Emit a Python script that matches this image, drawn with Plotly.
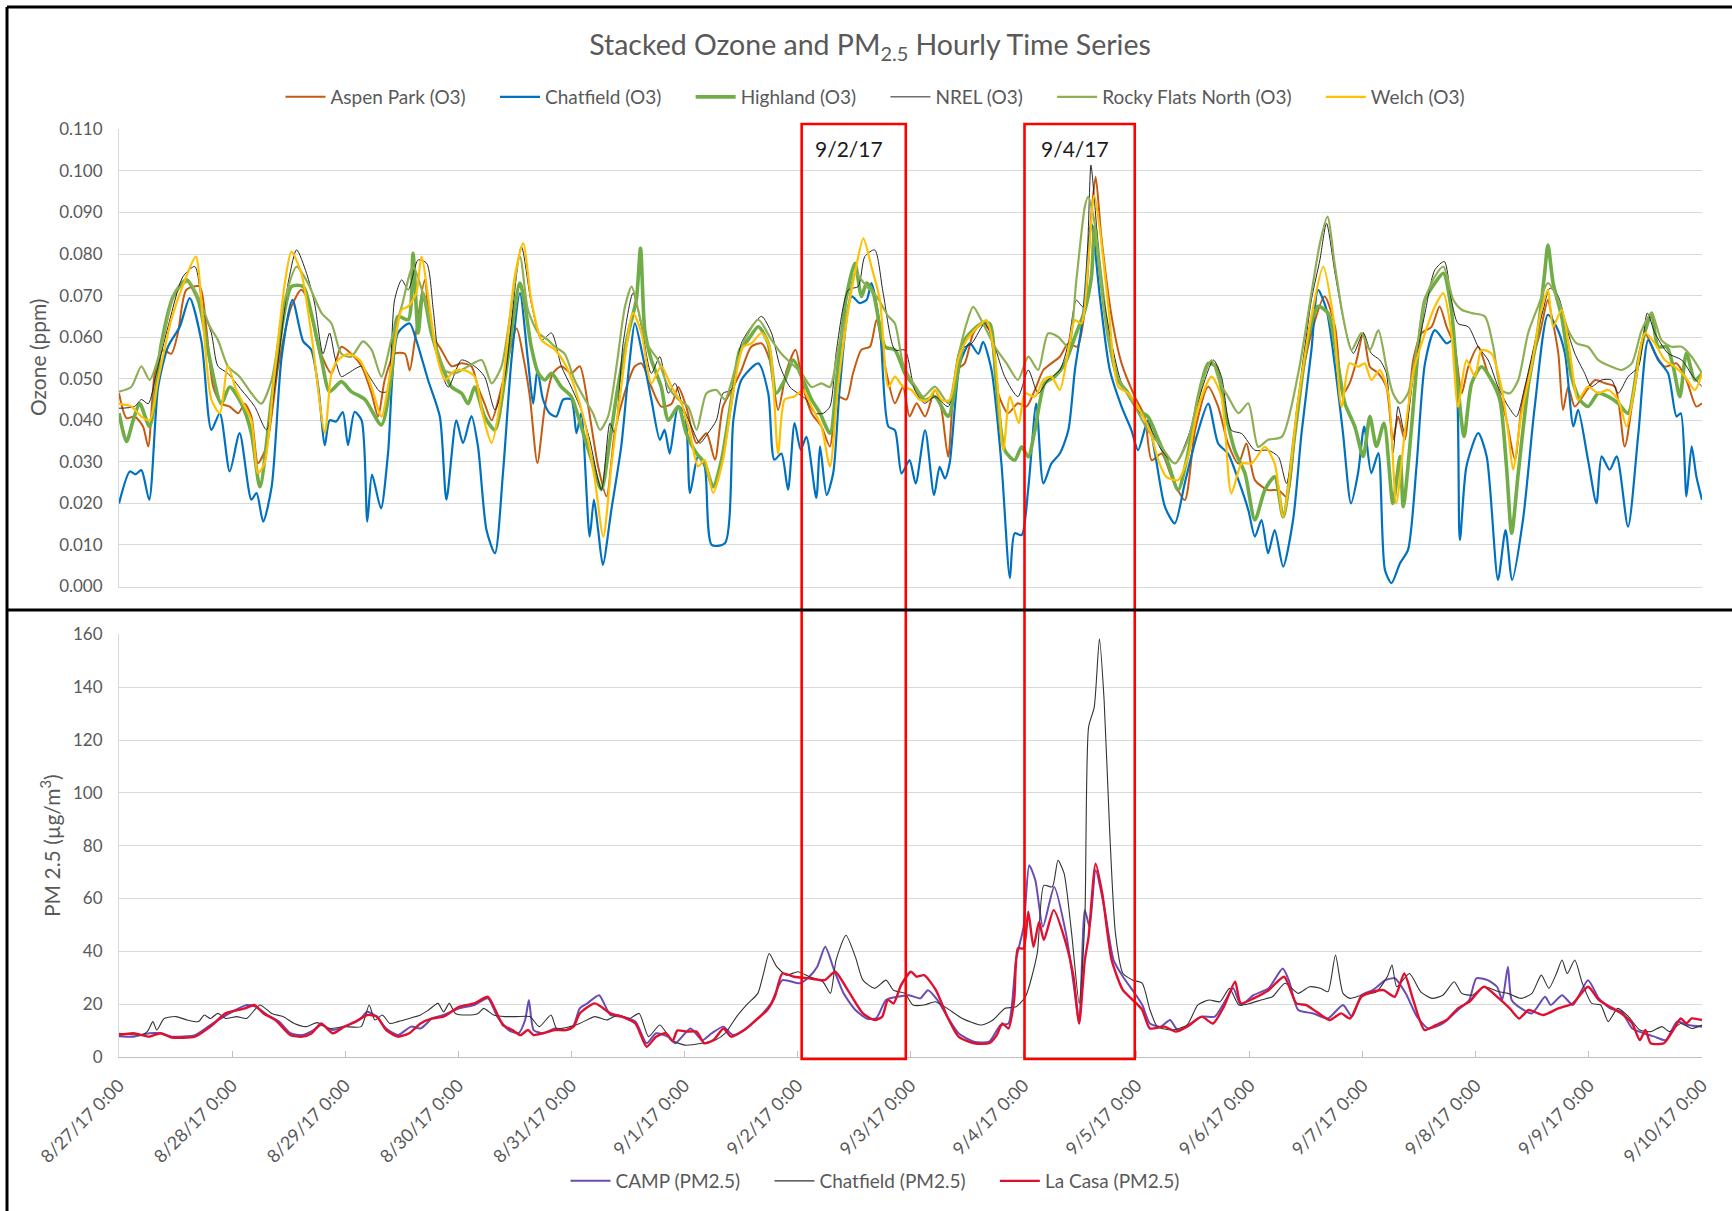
import pandas as pd
import plotly.graph_objects as go

START = pd.Timestamp("2017-08-27 00:00")

DAY_LABELS = ["8/27/17 0:00", "8/28/17 0:00", "8/29/17 0:00", "8/30/17 0:00", "8/31/17 0:00",
              "9/1/17 0:00", "9/2/17 0:00", "9/3/17 0:00", "9/4/17 0:00", "9/5/17 0:00",
              "9/6/17 0:00", "9/7/17 0:00", "9/8/17 0:00", "9/9/17 0:00", "9/10/17 0:00"]

# ---------------- Ozone (ppm); x = hours after 8/27/17 0:00 ----------------
ASPEN_H = [0,1.6,3.3,5.1,6.2,7.6,9.3,11.1,12.5,14.3,17.1,18.5,20,21.7,23.5,25.3,26.7,28.1,29.5,31.3,33.8,36.6,38.7,40.1,42.3,45.1,47.2,49.3,51.5,53.6,55,56.4,58.5,60.7,61.7,62.8,64.9,66.3,68.4,70.6,72.7,74.8,76.2,77.6,79.1,81.2,
           84.4,85.8,87.2,88.8,90.4,92.1,93.9,96,97.8,99.6,101.7,103.5,105.2,107.3,109.5,110.9,113,115.1,117.3,118.7,120.4,122.6,124.7,126.5,128.2,130.4,132.1,134.2,136.4,138.1,139.9,141.7,143.6,145.2,147,149.1,150.9,152.6,154.4,155.8,157.6,159.4,160.8,162.6,
           164.7,166.4,167.8,169.3,171.1,173.2,174.6,176,177.8,179.5,181.3,183.1,184.8,186.6,188.7,190.8,192.6,194.4,196.2,197.9,199.7,201.5,203.4,205,206.4,207.3,208.5,210.7,212.8,215.6,217.7,219.2,221.3,223.4,226.2,228.4,231.2,233.3,235.4,237.6,239.3,241.1,243.9,246.1,247.8,
           250.3,253.1,255.9,258.1,259.8,261.2,262.7,264.1,265.5,267.3,269,270.4,271.5,272.9,274.7,276.5,278.6,280.3,281.8,283.5,285,286.4,288.5,290.6,292.7,294.5,296.3,297.7,299.8,301.6,303.3,304.1,305.5,306.5,307.6,309,311.1,313.3,315.4,317.5,319.6,321.7,323.9,326,328.1,330.6,332.7,334.8,336]
ASPEN_V = [0.0465,0.0405,0.0409,0.0385,0.0337,0.0513,0.0569,0.056,0.061,0.0714,0.0722,0.0625,0.048,0.044,0.0433,0.0417,0.044,0.0409,0.0297,0.0337,0.053,0.0674,0.0714,0.069,0.0577,0.0513,0.0577,0.056,0.053,0.0465,0.0409,0.0497,0.056,0.056,0.052,0.0593,0.0738,0.061,0.057,0.053,0.0537,0.053,0.048,0.044,0.040,0.048,
           0.0621,0.0553,0.0457,0.0297,0.0433,0.0513,0.053,0.0513,0.053,0.0433,0.0289,0.0217,0.0369,0.0465,0.053,0.0537,0.048,0.0433,0.044,0.048,0.0433,0.0345,0.0369,0.0305,0.0433,0.048,0.052,0.0577,0.0585,0.0545,0.0425,0.052,0.057,0.048,0.0417,0.0385,0.0337,0.0457,0.045,0.0513,0.057,0.0577,0.0642,0.053,
           0.0441,0.0481,0.0409,0.0441,0.0409,0.0473,0.0425,0.0312,0.0521,0.0537,0.0609,0.0633,0.0617,0.0465,0.0417,0.0441,0.0433,0.0473,0.0521,0.0537,0.0553,0.0585,0.0577,0.0665,0.0898,0.0986,0.0842,0.0649,0.0537,0.0457,0.0409,0.0304,0.032,0.0264,0.0208,0.0376,0.0481,0.0433,0.0344,0.0296,0.0344,0.0256,0.0232,0.0232,0.0216,
           0.0449,0.061,0.0698,0.0625,0.0465,0.0489,0.0545,0.061,0.0529,0.0513,0.0481,0.0353,0.0409,0.0353,0.0545,0.061,0.0625,0.0674,0.0625,0.0577,0.0465,0.0529,0.0577,0.0513,0.0473,0.0401,0.0305,0.0433,0.0537,0.061,0.069,0.065,0.0561,0.0425,0.0481,0.0433,0.0465,0.0497,0.0489,0.0481,0.0337,0.0481,0.061,0.0561,0.0529,0.0537,0.0497,0.0433,0.0441]

CHATFIELD_O3_H = [0,2.3,3.5,4.75,6.4,8.3,10.4,12.9,15,17.5,19.6,21.4,23.5,25.6,28.1,29.2,30.6,32.4,34.5,36.8,39.1,40.8,42.3,43.7,44.7,46.1,47.5,48.6,50,51.5,52.7,53.7,55.6,57.1,59.2,61.7,63.1,65.6,68.1,69.5,71.6,73,74.8,76.2,78,79.8,81.5,
                  83.3,85.1,86.8,87.9,88.8,90,91.4,92.8,94.3,96,97.1,98.1,99.9,100.8,101.7,102.7,104.5,106.6,108.4,109.5,111.2,113,114.8,115.8,116.9,118.7,120.1,121.2,122.9,124.3,125.8,128.6,130.4,132.1,135.7,137.8,139.1,140.6,142,143.4,144.7,145.9,148,148.8,150.2,151.6,153,155.5,157.2,158.7,159.7,161.5,163.3,
                  164.7,166.1,167.8,169.1,171.1,173,174.2,175.3,176.3,178.5,180.6,182.4,183.4,185.2,187.3,189.1,190.1,191.6,193,194.7,196.2,197.9,199.7,201.5,202.9,204.6,206.4,208.2,210.3,212.8,214.9,216.3,218.4,219.9,222,224.1,226.2,228.7,231.2,233.3,235.4,237.6,239.7,241.1,242.5,243.9,245.3,247.1,
                  249.2,251,253.1,254.5,256.3,258.1,259.8,261.5,263,264.3,265.8,267.3,268.7,270.1,271.9,273.6,275.4,277.2,279.3,281.8,283.2,284.6,286,288.5,290.3,292.7,294.3,295.7,298,300.5,303.3,305.1,306.9,308.7,309.7,311.8,313.6,314.7,316.4,317.9,320.3,322.5,324.6,326.7,328.8,330.6,331.5,332.7,333.8,334.8,336]
CHATFIELD_O3_V = [0.020,0.0277,0.027,0.028,0.0209,0.048,0.0577,0.0625,0.0694,0.059,0.0377,0.0417,0.0277,0.0369,0.0209,0.0225,0.0156,0.024,0.055,0.069,0.059,0.057,0.048,0.034,0.040,0.0397,0.042,0.034,0.042,0.040,0.0156,0.0269,0.0188,0.032,0.061,0.0633,0.0593,0.0497,0.0409,0.0209,0.040,0.0345,0.041,0.0337,0.0136,0.008,0.0273,
                  0.0545,0.0706,0.0545,0.044,0.052,0.045,0.0417,0.0409,0.045,0.045,0.0369,0.0417,0.012,0.0209,0.0136,0.0052,0.0184,0.0337,0.0545,0.0634,0.0553,0.045,0.0353,0.0377,0.032,0.0433,0.0417,0.0225,0.0313,0.0289,0.010,0.0104,0.040,0.0497,0.0537,0.0465,0.0305,0.032,0.0233,0.0393,0.0329,0.036,0.0213,0.0337,0.022,0.0273,0.048,0.0698,0.0682,0.069,0.073,0.0625,0.0385,
                  0.0376,0.0272,0.0304,0.0248,0.0376,0.022,0.0288,0.026,0.0296,0.0537,0.0585,0.056,0.0589,0.0521,0.0296,0.002,0.0128,0.0124,0.0236,0.044,0.0248,0.0296,0.032,0.0376,0.0521,0.0649,0.0874,0.0697,0.0521,0.0433,0.0376,0.0328,0.040,0.032,0.0192,0.0152,0.0248,0.036,0.044,0.0344,0.032,0.0256,0.0184,0.012,0.016,0.008,0.0136,0.0048,
                  0.016,0.0369,0.0569,0.0714,0.0666,0.0529,0.0369,0.020,0.0273,0.0385,0.0273,0.0321,0.004,0.0008,0.0056,0.0088,0.0289,0.0537,0.0617,0.0585,0.0593,0.0112,0.0289,0.0369,0.0313,0.0016,0.0136,0.0016,0.016,0.0433,0.0654,0.0625,0.0561,0.0385,0.0425,0.0305,0.020,0.0313,0.0281,0.0313,0.0144,0.0369,0.0593,0.0545,0.0513,0.0409,0.0417,0.0217,0.0337,0.0265,0.0209]

HIGHLAND_H = [0,1.6,3,4.4,6.5,9,11.5,14.3,16.8,19.3,21.7,23.5,26,28.1,29.9,32.4,35.2,36.6,39.1,40.8,43,44.7,47.2,49.3,52.2,55.7,57.8,59.2,61.4,62.4,63.5,64.5,66.3,68.1,70.6,72.7,74.1,75.5,77.6,79.8,81.9,
              85.1,86.1,87.5,89,90.4,91.8,93.9,96,98.1,100.3,102.4,104.2,105.9,108.1,109.8,110.7,111.6,113,115.1,116.6,118.7,120.4,122.6,124.3,126.1,127.9,130,131.8,133.5,135.7,137.8,139.5,141.3,143.1,144.9,147,148.8,150.9,152.6,154.4,156.2,157.6,158.7,160.1,162.6,
              164.7,166.8,168.9,171,173.2,176,178.1,179.5,181.3,183.1,184.8,186.2,188,190.1,191.6,193,194.4,196.5,198.6,200.8,202.9,205,206.4,207.1,208.2,210,212.1,214.2,216.3,218.4,220.6,222.7,224.8,226.9,229.1,231.2,232.9,234.7,236.8,239,241.1,243.2,245.3,247.1,
              249.6,252.4,254.5,256.6,258.8,260.2,262.3,264.1,265.5,266.9,268.5,270.4,271.9,272.6,274.3,275.7,277.2,279.3,281.1,282.8,284.2,285.5,287.1,289.2,291.3,293.1,294.5,295.6,297,299.1,301.2,302.6,303.3,304.4,306.2,308.3,310.1,311.8,314,316.1,318.2,320.3,322.5,324.2,325.3,326.7,328.5,329.9,331.3,332.7,334.5,336]
HIGHLAND_V = [0.0417,0.0349,0.040,0.044,0.0385,0.0585,0.0698,0.0738,0.069,0.0545,0.044,0.048,0.044,0.0369,0.024,0.045,0.0666,0.0722,0.0722,0.0658,0.0545,0.0469,0.0493,0.0469,0.045,0.0389,0.0505,0.065,0.0642,0.0802,0.061,0.0706,0.061,0.0545,0.048,0.0465,0.044,0.048,0.0409,0.0377,0.050,
              0.073,0.0682,0.0577,0.0513,0.0497,0.0513,0.048,0.0457,0.0385,0.0305,0.0233,0.0353,0.048,0.061,0.069,0.0814,0.0617,0.0545,0.048,0.040,0.0433,0.0369,0.032,0.0297,0.024,0.0305,0.045,0.057,0.0593,0.0625,0.0585,0.0465,0.0497,0.0545,0.0505,0.045,0.0417,0.0369,0.053,0.0698,0.0778,0.0698,0.073,0.0706,0.0577,
              0.0569,0.0513,0.0481,0.0449,0.0457,0.0409,0.0521,0.0593,0.0617,0.0633,0.0633,0.0489,0.0328,0.0304,0.0336,0.0312,0.0376,0.0489,0.0505,0.0537,0.0601,0.0665,0.0745,0.0866,0.0761,0.0601,0.0497,0.0465,0.0425,0.0409,0.0353,0.0296,0.0232,0.032,0.0457,0.0537,0.0529,0.0425,0.0328,0.0272,0.016,0.0232,0.0264,0.0168,
              0.037,0.0601,0.0674,0.0658,0.0529,0.0441,0.0385,0.0313,0.0409,0.0337,0.0393,0.020,0.0313,0.0192,0.0377,0.0561,0.069,0.073,0.0754,0.0666,0.0481,0.0361,0.0489,0.0529,0.0497,0.0449,0.0289,0.0128,0.0273,0.0481,0.0617,0.0754,0.0822,0.073,0.065,0.0505,0.0449,0.0433,0.0465,0.0457,0.0441,0.0417,0.0545,0.0625,0.0658,0.0577,0.0577,0.0529,0.0457,0.0561,0.0497,0.0513]

NREL_H = [0,3.3,4.75,6.2,8,10.4,13.6,16.1,17.8,19.6,21,23.1,26,28.8,31.3,33.8,35.9,37.7,39.8,41.5,43.3,44.7,45.8,47.2,48.6,51.5,53.6,55.4,56.8,58.5,60,61.4,63.5,65.3,66.7,68.1,69.9,72.7,75.5,77.6,79.8,81.9,
          85.4,87.5,89.7,91.8,93.9,96,98.1,99.9,102.4,104.2,105.2,107,109.1,110.9,113,114.8,116.6,118,119.7,121.5,123.3,125,126.8,128.2,130,132.1,134.2,136.4,138.5,140.3,142.4,144.1,145.9,147.7,149.5,150.9,152.3,154.8,156.9,158.3,160.4,162.2,
          164.7,166.8,168.9,171,173.2,176,178.5,181,183.8,185.9,188,190.8,193,195.1,197.2,199.7,201.5,203.2,204.6,205.6,206.3,207.1,208.5,210.7,212.8,215.6,218.4,221.3,224.1,226.9,229.8,232.3,234,236.1,238.3,241.1,243.9,246.1,247.8,
          250.3,253.1,254.9,256.3,258.1,260.2,262,264.1,265.8,267.6,269,270.4,271.5,272.9,275,277.2,279.3,281.3,282.8,284.2,286.4,288.5,290.6,292.7,294.9,296.6,298.4,300.5,302.3,303.7,305.5,307.2,309,311.1,312.5,314.7,316.8,318.2,320.3,322.5,324.4,326,328.8,331.7,334.1,336]
NREL_V = [0.0429,0.0433,0.045,0.044,0.0517,0.0625,0.0746,0.077,0.0666,0.061,0.053,0.0513,0.0473,0.0433,0.0377,0.0545,0.073,0.081,0.0754,0.0682,0.056,0.061,0.0553,0.0505,0.0513,0.053,0.0497,0.0469,0.0469,0.069,0.0738,0.0714,0.0786,0.0778,0.0666,0.053,0.048,0.0545,0.053,0.0505,0.0425,0.0505,
          0.0818,0.0682,0.0593,0.061,0.053,0.048,0.0425,0.0353,0.0233,0.0393,0.0369,0.0585,0.0706,0.0625,0.0513,0.0553,0.0465,0.0489,0.0433,0.0385,0.0345,0.0369,0.040,0.0465,0.0473,0.0585,0.0625,0.065,0.061,0.053,0.048,0.0465,0.045,0.0417,0.0417,0.0433,0.057,0.0714,0.0722,0.0794,0.081,0.0706,
          0.0569,0.0569,0.0473,0.0441,0.0457,0.0433,0.0569,0.0585,0.0633,0.0577,0.0505,0.0457,0.0521,0.0465,0.0497,0.0521,0.0585,0.0689,0.0673,0.0818,0.1014,0.0922,0.0729,0.0585,0.0489,0.0433,0.0393,0.0328,0.0296,0.036,0.0473,0.0545,0.0505,0.0376,0.0368,0.0328,0.0328,0.0312,0.0248,
          0.0449,0.069,0.0786,0.0874,0.0754,0.0625,0.0561,0.061,0.0561,0.0545,0.0513,0.0321,0.0433,0.0369,0.0529,0.0658,0.0762,0.0782,0.069,0.0633,0.0625,0.0577,0.0545,0.0481,0.0433,0.0409,0.0481,0.0585,0.0666,0.0718,0.0698,0.0625,0.0561,0.0513,0.0481,0.0497,0.0497,0.0465,0.0505,0.0529,0.0658,0.061,0.0561,0.0545,0.0505,0.0481]

ROCKY_H = [0,2.6,4.75,6.5,9,11.8,14.7,16.8,19.3,21,23.1,25.6,28.1,30.2,32.4,35.2,37.7,40.1,43,45.1,47.2,49.3,51.8,53.6,55.7,57.8,60,62.4,64.9,67,69.2,71.3,74.1,77,79.1,81.2,
           85.1,86.8,89,91.1,92.5,94.6,96.7,98.9,100.6,102.1,103.8,105.6,107.4,108.8,110.2,112,114.4,116.6,118.7,120.8,122.6,124.7,126.8,128.6,130.7,132.8,135.7,138.5,140.6,142.7,144.9,147,149.1,150.9,152.6,154.8,156.2,158.7,160.8,163.3,
           164.7,166.4,168.6,170.7,173.2,176,178.1,179.9,181.3,183.4,185.9,188.4,190.8,193,195.1,197.2,199.3,201.5,203.2,205,205.7,207.1,209.2,211.4,213.5,215.6,218.4,221.3,224.1,226.9,229.8,231.9,233.7,235.4,237.6,239.7,241.8,243.9,246.8,
           250.3,253.1,254.9,256.5,258.1,259.8,261.6,263.7,265.5,267.3,269,270.4,271.9,273.6,275.4,277.2,279.3,281.1,283.2,285,287.1,289.9,291.7,293.4,295.2,297,299.1,301.2,303.3,305.5,307.6,309.4,311.8,314,316.8,318.9,321.1,323.2,325.3,327.4,329.5,331.7,333.8,336]
ROCKY_V = [0.0469,0.048,0.053,0.0497,0.0577,0.0706,0.0734,0.0698,0.0625,0.0593,0.053,0.0505,0.0465,0.044,0.0497,0.069,0.077,0.073,0.0658,0.0633,0.056,0.0553,0.059,0.057,0.0505,0.0593,0.0674,0.077,0.069,0.0593,0.052,0.0513,0.053,0.0545,0.0489,0.053,
           0.0794,0.0666,0.061,0.0593,0.0577,0.056,0.0497,0.045,0.0417,0.0377,0.0409,0.053,0.0674,0.0722,0.0666,0.0585,0.0545,0.048,0.045,0.0433,0.0377,0.0465,0.0473,0.045,0.052,0.0593,0.0642,0.0593,0.056,0.0537,0.0513,0.048,0.0489,0.048,0.057,0.0674,0.0754,0.0722,0.0698,0.065,
           0.0633,0.0537,0.0489,0.0457,0.0481,0.0441,0.0553,0.0633,0.0673,0.0633,0.0577,0.0537,0.0497,0.0553,0.0521,0.0609,0.0601,0.0577,0.0737,0.0914,0.0938,0.0874,0.0657,0.0521,0.0473,0.0433,0.0376,0.0336,0.0296,0.0353,0.0489,0.0545,0.0489,0.0457,0.0417,0.0441,0.0336,0.0353,0.036,
           0.0513,0.0706,0.0826,0.089,0.077,0.065,0.0569,0.061,0.0569,0.0617,0.0529,0.0465,0.0441,0.0465,0.0569,0.069,0.0746,0.077,0.069,0.0666,0.0658,0.065,0.0577,0.0473,0.0465,0.0497,0.061,0.0674,0.073,0.069,0.0617,0.0585,0.0577,0.0545,0.0529,0.0521,0.0537,0.0617,0.0658,0.0593,0.0577,0.0577,0.0553,0.0513]

WELCH_H = [0,2.6,4.75,6.5,8.3,11.1,14,16.3,17.8,19.6,21.4,23.1,24.9,26.7,28.1,29.5,30.9,33,35.2,36.6,38.7,40.8,43.7,45.1,46.5,48.6,51.1,53.6,55.7,57.8,60,61.4,63.1,64.2,66,67.4,69.2,71.3,73.4,75.5,77.3,79.1,81.2,
           84,85.8,87.5,89.7,92.5,94.6,96.7,98.9,101,102.8,104.5,106.6,109.1,110.9,113,115.1,117.3,119.4,121.2,122.9,124.3,126.1,128.2,130.4,132.5,134.2,136.4,138.1,139.9,141.3,143.4,145.2,147,149.1,150.9,152.6,154.8,156.2,158,159.7,161.5,163.3,
           164.7,166.4,168.2,170,171.7,173.2,174.6,176.3,178.1,179.9,181.6,184.1,185.9,187.7,189.1,191,192.3,194.4,196.2,197.9,199.7,201.5,202.9,204.3,205.7,207,208.2,210,212.1,214.2,217,218.8,220.6,222.3,224.8,226.9,229.1,231.9,234,236.1,238.3,240.4,243.2,245.3,247.1,
           250.3,253.1,255.6,257.7,259.5,261.2,263,264.4,265.8,267.6,269.4,271.1,272.9,275,277.2,279.3,281.1,282.8,284.2,286,287.8,289.2,291.3,293.4,294.9,295.9,297.7,299.8,301.9,303.3,304.4,306.2,307.9,309.7,311.8,314,316.1,318.2,320,321.7,323.9,326,328.1,330.2,332.4,334.5,336]
WELCH_V = [0.044,0.0433,0.0409,0.040,0.0497,0.0642,0.0738,0.0794,0.0642,0.045,0.0417,0.053,0.0473,0.0433,0.040,0.0273,0.0297,0.0513,0.073,0.0806,0.0754,0.061,0.0369,0.0513,0.0545,0.056,0.0545,0.048,0.0409,0.053,0.0666,0.0674,0.0706,0.0794,0.0666,0.056,0.0497,0.052,0.052,0.0505,0.0409,0.0345,0.0465,
           0.0746,0.0826,0.069,0.0593,0.057,0.0537,0.048,0.0393,0.0257,0.012,0.0289,0.048,0.0658,0.061,0.0489,0.053,0.048,0.044,0.0369,0.0289,0.0305,0.0225,0.0305,0.0473,0.0577,0.0585,0.061,0.0577,0.032,0.045,0.0457,0.0473,0.0433,0.0385,0.0289,0.048,0.0666,0.0754,0.0838,0.077,0.069,0.048,
           0.0505,0.0481,0.0473,0.0449,0.0449,0.0473,0.0449,0.0449,0.0545,0.0593,0.0617,0.0641,0.0553,0.0328,0.0457,0.0393,0.0465,0.0457,0.0497,0.0505,0.0473,0.0569,0.0641,0.0633,0.0777,0.0942,0.0858,0.0673,0.0481,0.0465,0.0417,0.0376,0.0304,0.0264,0.0256,0.0312,0.0433,0.0505,0.0457,0.0224,0.0296,0.0296,0.0336,0.0296,0.0168,
           0.0449,0.065,0.077,0.065,0.0433,0.0537,0.0529,0.0537,0.0497,0.0521,0.0465,0.020,0.0369,0.0529,0.061,0.0674,0.0706,0.061,0.0433,0.0545,0.0505,0.0569,0.0561,0.0481,0.0369,0.0281,0.0417,0.0529,0.0666,0.0714,0.0625,0.0666,0.0569,0.0449,0.0481,0.0465,0.0473,0.0449,0.0385,0.0481,0.061,0.0585,0.0545,0.0529,0.0505,0.0473,0.0513]

# ---------------- PM2.5 (ug/m3); x = hours after 8/27/17 0:00 ----------------
CAMP_H = [0,3.1,6.4,8.8,11.2,16.1,19.4,23.4,27.1,29.1,31.5,34,36.4,38.9,41.3,42.9,45.4,47.8,51,52.7,54.7,56.7,59.2,62,64,66.5,68.9,72.2,75.4,78.3,80.3,82.7,84.8,86.2,87,88,90,92.5,94.9,96.5,
          97.8,99.4,101.9,104.3,106.7,109.6,112,114,116.5,118.1,121.3,123.8,125.8,128.3,130.3,132.7,136,138.4,140.8,144.5,146.5,148.2,149.9,151.8,153.8,156.3,158.7,160.7,162.8,165.2,167.7,170.1,171.7,173.7,175.8,178.2,181.5,184.7,187.1,188.8,190.4,192,193.2,194.5,196.1,198.5,201,202.6,203.8,205,206,207.3,209.1,211.1,213.1,215.6,217.2,
          218.8,221.1,223.1,224.7,226.7,229.8,232.6,234.5,236.5,238.1,240.8,244,247,248.3,250.3,253.5,256.6,259.8,261.7,263.7,266.1,268.8,270.8,273.1,275.5,277.9,281,284.2,286.6,288.1,290.5,292.5,293.6,294.8,295.6,297.6,299.9,302.7,303.9,306.3,308.6,311.8,314.1,316.5,318.9,321.2,323.6,325.9,328.3,330.7,333,336]
CAMP_V = [7.9,7.7,9,9,7.7,8.3,12.1,16.5,19.7,19,15.9,13.4,9,8.3,10.2,12.1,10.2,11.5,14,17.1,15.3,10.8,8.3,11.5,10.8,14.6,15.9,18.4,19.7,22.2,15.3,10.2,9,14,21.6,10.2,9,10.8,10.2,12,
          18.4,20.3,23.4,15.9,15.3,13.4,5.2,9,7.7,5.2,10.8,6.4,9,11.5,8.3,10.2,15.3,20.3,29.1,27.9,30.4,34.2,41.7,32.9,24.1,17.8,14.6,14.6,21.6,22.8,23.4,22.2,25.3,21.6,15.3,9,5.8,5.8,12.1,12.7,36.7,49.3,72.6,66.9,49.3,64.4,46.8,27.9,12.7,55.6,49.3,70.7,56.9,36.7,30.4,24.1,19.7,
          12.7,11.5,14,10.2,11.5,15.3,15.3,20.3,26,19.7,23.4,26,33.5,29.1,17.8,16.5,14.6,19.7,15.3,23.4,25.3,29.1,29.8,24.1,15.3,10.8,12.7,17.8,21.6,29.8,29.1,26.6,21.6,34.2,21.6,18.4,16.5,22.8,19.7,23.4,19.7,29.1,22.2,18.4,17.1,10.8,9,7.7,6.4,13.4,12.1,11.5]

CHATFIELD_PM_H = [0,4.7,6,7.2,8,9.6,12.1,14.5,16.9,18.1,19.4,21,22.6,25,27.1,29.9,32.4,34.8,37.2,39.7,42.1,44.5,47.8,51.4,53.1,54.3,55.9,57.5,59.2,61.6,64,65.7,67.7,68.9,70.1,71.4,73.8,76.2,77.4,79.5,81.9,84.3,87.2,89.2,91.7,92.9,95.7,
                  97.8,101,103.5,105.9,108.4,110.4,112.4,114.8,117.3,120.1,123.8,126.6,128.7,131.1,133.5,135.6,136.8,138,139.6,141.7,144.1,146.5,149.4,151,152.2,154.3,156.3,157.9,160.4,162.8,164.4,166.8,168.5,170.9,173.3,175.8,179,183.1,185.5,188,190.4,192.4,194.9,196.3,198.1,199.3,200.6,202.2,203.8,205,205.8,207,208.1,209.1,210.3,211.5,213.1,215.2,217.2,
                  218.8,220.4,223.5,226.7,229,231.4,233.7,235.7,237.7,240.1,242.4,244.8,247.5,250.3,252.7,255,256.6,258.2,259.8,261.3,263.7,266.9,269.2,270.2,271.2,273.9,276.3,278.7,281,283.4,285,287.3,289.7,292.9,294.8,297.6,299.9,301.9,303.5,305.1,306.3,307.4,309,310.6,312.6,314.5,316.1,318.1,320.4,322.8,325.1,327.5,329.1,331.5,333.8,336]
CHATFIELD_PM_V = [9,8.3,9.6,13.4,10.2,14.6,15.3,14,13.4,15.9,14.6,16.5,14.6,15.3,14.6,19.7,16.5,15.3,12.7,11.5,13,10.8,11.5,11.5,19.7,14,15.9,12.7,13.4,14.6,15.9,17.8,20.3,17.1,20.3,16.5,15.9,16.5,18.4,15.9,15.3,15.3,15.3,11.5,15.9,10.8,11.5,
                  12.7,15.3,14,15.9,14.6,16.5,7.7,12.1,6.4,4.5,5.2,6.4,9,15.3,20.3,24.1,31.6,39.2,34.2,31,32.3,30.4,28.5,24.1,36.7,46.1,37.9,29.1,26,29.1,25.3,24.1,19.7,19.7,20.9,18.4,14.6,12.1,14,18.4,19,22.8,39.2,65,64.4,74.5,69.5,46.8,20.3,51.8,124.9,132.5,158.3,135,84.6,46.8,31.6,29.1,27.9,
                  18,11.5,10.2,12.1,19.7,21.6,20.9,26,19.7,20.3,21.6,22.8,27.9,24.1,26.6,26,24.7,38.6,24.1,22.2,23.4,24.7,30.4,34.8,26.6,31.6,24.7,22.2,23.4,28.5,24.1,23.4,26.6,24.7,24.1,22.2,24.1,31,26,31.6,36.7,31.6,36.7,27.9,20.3,19.7,13.4,18.4,15.3,10.2,9.6,11.5,9.6,12.7,10.8,12.1]

LACASA_H = [0,3.1,6.4,8.8,11.2,16.1,19.4,22.6,26.7,28.7,30.7,33.2,36.4,38.9,40.9,42.9,45.4,47.8,50.2,52.7,54.7,56.7,59.2,61.6,64,66.5,68.9,72.2,75.4,78.3,79.9,81.5,83.5,85.2,86.8,88,90,92.5,94.9,96.5,
            97.8,101,104.3,106.7,109.6,112,114,116.1,117.5,118.5,120.5,122.6,124.2,126.2,128.3,129.9,132.7,135.2,137.6,139.2,140.8,143.3,146.5,149.8,152,154.7,157.9,160.4,162,163.2,164.4,166,168.1,169.3,170.9,173.4,175.8,178.2,181.5,184.7,186.3,187.5,188.8,190,190.8,192,193,194.1,195.3,196.3,198.4,201,202.6,203.8,205,205.8,207.3,208.7,210.7,213.1,215.6,217.2,
            218.8,221.9,224.3,226.7,229.8,232.2,234.5,236.9,238.1,240.8,244,247.3,249.9,251.9,254.2,257,259.4,261.3,263.7,266.1,268.4,270.8,272.8,274.7,277.1,279.5,281.8,284.2,286.6,289.7,292.9,295.2,297.2,299.2,302.3,305.5,308.6,311.8,314.1,316.5,318.9,321.2,322.8,324,325.1,327.9,329.9,331.5,332.7,333.8,336]
LACASA_V = [8.3,9,7.7,9,7.4,7.7,11.5,16.5,18.4,19.7,16.5,14,8.3,7.7,9,12.7,9,11.5,13.4,15.9,15.3,10.2,7.7,9,12.7,14.6,15.3,19,20.3,22.8,17.8,12.1,10.2,8.3,10.2,8.3,9,10.2,10.2,11.5,
            16.5,20.3,16.5,15.3,12.7,3.9,7.7,9,6,10,9.6,9.6,5.2,6.4,10.8,7.7,10.2,14,17.8,22.8,31.6,30.4,29.8,29.1,32.3,25.3,16.5,14,15.3,21.6,20.3,27.2,32.3,30.4,31,25.3,15.3,7.7,5.2,5.2,8.3,12.7,10.8,21.6,41.1,41.1,55,41.7,51.2,44.3,55.6,43,30.4,12.7,36.7,45.5,73.2,61.9,36.7,25.3,20.9,17.8,
            10.8,11.5,9.6,11.5,15.3,12.7,19,28.5,20.3,22.2,25.3,30.4,20.3,19.7,17.1,14,16.5,14.6,22.8,24.7,25.3,22.8,31.6,21.6,10.2,12.1,14,18.4,20.9,26.6,22.2,18.4,14.6,17.8,15.9,18.4,20.3,26.6,21.6,19,16.5,12.7,6.4,10.2,5.2,5.2,10.2,14.6,12.7,14.6,14]

# highlighted event days (hours after start) and their labels
BOXES = [(144.9, 167.0, "9/2/17"), (192.2, 215.6, "9/4/17")]

OZONE = [("Aspen Park (O3)", ASPEN_H, ASPEN_V, "#C55A11", 2.0),
         ("Chatfield (O3)", CHATFIELD_O3_H, CHATFIELD_O3_V, "#0070C0", 2.2),
         ("Highland (O3)", HIGHLAND_H, HIGHLAND_V, "#70AD47", 3.6),
         ("NREL (O3)", NREL_H, NREL_V, "#262626", 1.0),
         ("Rocky Flats North (O3)", ROCKY_H, ROCKY_V, "#8FAF55", 2.2),
         ("Welch (O3)", WELCH_H, WELCH_V, "#FFC000", 2.2)]
PM = [("CAMP (PM2.5)", CAMP_H, CAMP_V, "#6A4CB4", 2.0),
      ("Chatfield (PM2.5)", CHATFIELD_PM_H, CHATFIELD_PM_V, "#333333", 1.1),
      ("La Casa (PM2.5)", LACASA_H, LACASA_V, "#E0102F", 2.4)]


def to_time(hours):
    return [START + pd.Timedelta(hours=h) for h in hours]


for series in OZONE + PM:
    assert len(series[1]) == len(series[2]), series[0]

W, H = 1732, 1211
ML, MR, MT, MB = 119, 30, 129, 154
PW, PH = W - ML - MR, H - MT - MB


def px_x(p):
    return (p - ML) / PW


def px_y(p):
    return (H - MB - p) / PH


FONT = "Lato, 'Open Sans', sans-serif"
GREY = "#595959"
PAD = "\u00a0" * 5   # spacing after legend entries, as in the original legend


def legend_name(name, i, n):
    return name + PAD if i < n - 1 else name


fig = go.Figure()
for i, (name, h, v, color, width) in enumerate(OZONE):
    fig.add_trace(go.Scatter(x=to_time(h), y=v, name=legend_name(name, i, len(OZONE)), mode="lines",
                             line=dict(color=color, width=width, shape="spline", smoothing=0.7),
                             xaxis="x", yaxis="y", legend="legend"))
for i, (name, h, v, color, width) in enumerate(PM):
    fig.add_trace(go.Scatter(x=to_time(h), y=v, name=legend_name(name, i, len(PM)), mode="lines",
                             line=dict(color=color, width=width, shape="spline", smoothing=0.6),
                             xaxis="x2", yaxis="y2", legend="legend2"))

x_range = [START, START + pd.Timedelta(days=14)]
tickvals = [START + pd.Timedelta(days=d) for d in range(len(DAY_LABELS))]

shapes = []
annotations = []
for h0, h1, label in BOXES:
    t0 = START + pd.Timedelta(hours=h0)
    t1 = START + pd.Timedelta(hours=h1)
    shapes.append(dict(type="rect", xref="x", yref="paper", x0=t0, x1=t1,
                       y0=px_y(1059), y1=px_y(124), line=dict(color="#FF0000", width=2.6),
                       fillcolor="rgba(0,0,0,0)", layer="above"))
    annotations.append(dict(x=START + pd.Timedelta(hours=(h0 + h1) / 2 - 1.0), xref="x",
                            y=px_y(148), yref="paper", xanchor="center", yanchor="middle",
                            text=label, showarrow=False, font=dict(family=FONT, size=21, color="#1a1a1a")))

# black framing lines of the original figure
for x0, y0, x1, y1 in [(7, 7, W, 7), (7, 7, 7, H), (7, 610, W, 610)]:
    shapes.append(dict(type="line", xref="paper", yref="paper", x0=px_x(x0), y0=px_y(y0),
                       x1=px_x(x1), y1=px_y(y1), line=dict(color="black", width=3)))

annotations.append(dict(text="Ozone (ppm)", x=px_x(37), y=px_y(358), xref="paper", yref="paper",
                        xanchor="center", yanchor="middle", textangle=-90, showarrow=False,
                        font=dict(family=FONT, size=21, color=GREY)))
annotations.append(dict(text="PM 2.5 (µg/m<sup>3</sup>)", x=px_x(50), y=px_y(846), xref="paper", yref="paper",
                        xanchor="center", yanchor="middle", textangle=-90, showarrow=False,
                        font=dict(family=FONT, size=21, color=GREY)))

fig.update_layout(
    width=W, height=H,
    margin=dict(l=ML, r=MR, t=MT, b=MB, autoexpand=False),
    paper_bgcolor="white", plot_bgcolor="white",
    font=dict(family=FONT, color=GREY, size=18),
    title=dict(text="Stacked Ozone and PM<sub>2.5</sub> Hourly Time Series",
               x=870 / W, xanchor="center", xref="container",
               y=1 - 45 / H, yanchor="middle", yref="container",
               font=dict(family=FONT, size=28.5, color=GREY)),
    showlegend=True,
    legend=dict(orientation="h", x=px_x(875), xanchor="center", y=px_y(97), yanchor="middle",
                itemwidth=40, font=dict(family=FONT, size=19, color=GREY), bgcolor="rgba(0,0,0,0)"),
    legend2=dict(orientation="h", x=px_x(875), xanchor="center", y=px_y(1181), yanchor="middle",
                 itemwidth=40, font=dict(family=FONT, size=19, color=GREY), bgcolor="rgba(0,0,0,0)"),
    xaxis=dict(domain=[0, 1], anchor="y", range=x_range, showticklabels=False, showgrid=False,
               zeroline=False, showline=True, linecolor="#D9D9D9", ticks="", automargin=False),
    yaxis=dict(domain=[px_y(586.5), 1], anchor="x", range=[0, 0.1101], tick0=0, dtick=0.010,
               tickformat=".3f", gridcolor="#D9D9D9", gridwidth=1, zeroline=False,
               showline=True, linecolor="#D9D9D9", ticks="", automargin=False,
               tickfont=dict(family=FONT, size=17, color=GREY), ticklabelstandoff=12),
    xaxis2=dict(domain=[0, 1], anchor="y2", matches="x", range=x_range,
                tickmode="array", tickvals=tickvals, ticktext=DAY_LABELS, tickangle=-45,
                ticks="inside", ticklen=6, tickcolor="#BFBFBF", showline=True, linecolor="#BFBFBF",
                showgrid=False, zeroline=False, automargin=False,
                tickfont=dict(family=FONT, size=18, color=GREY), ticklabelstandoff=10),
    yaxis2=dict(domain=[0, px_y(634.3)], anchor="x2", range=[0, 160.05], tick0=0, dtick=20,
                gridcolor="#D9D9D9", gridwidth=1, zeroline=False, showline=True, linecolor="#D9D9D9",
                ticks="", automargin=False,
                tickfont=dict(family=FONT, size=17, color=GREY), ticklabelstandoff=12),
    shapes=shapes,
    annotations=annotations,
)

fig.write_html("out.html", config={"displayModeBar": False},
               post_script="document.body.style.margin='0px';")
